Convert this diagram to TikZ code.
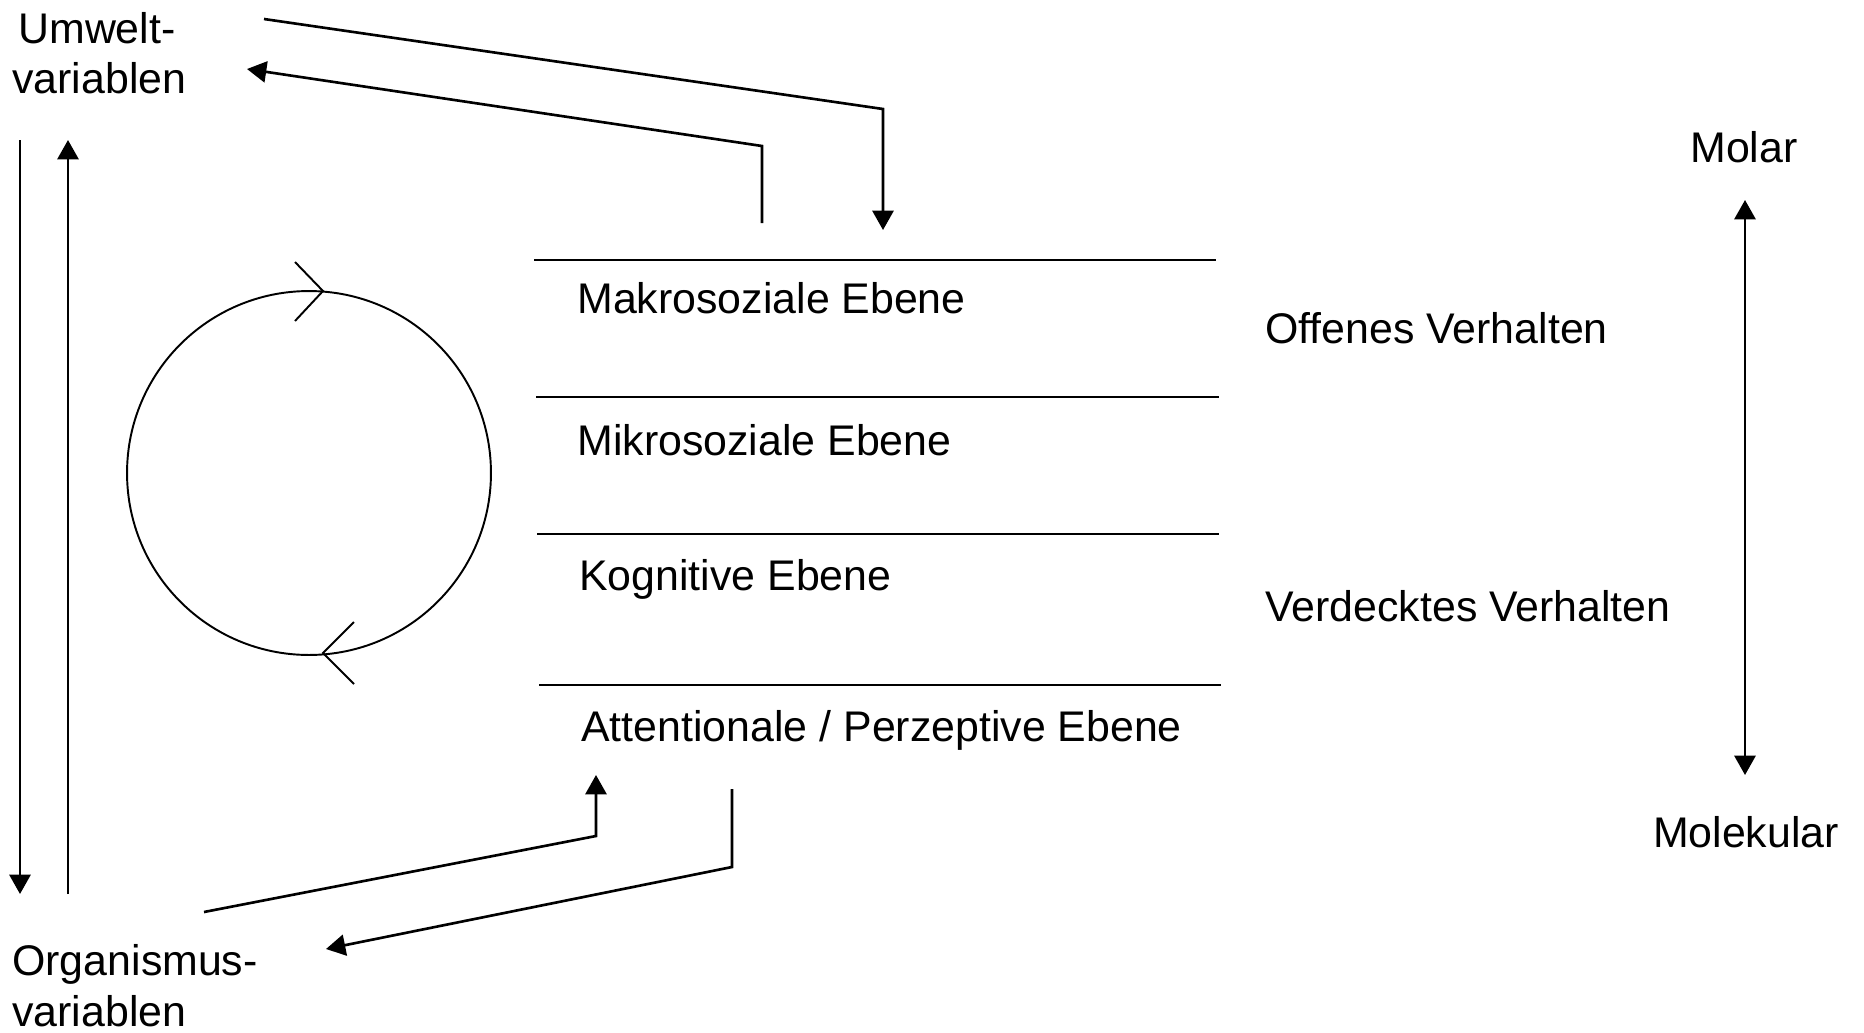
\documentclass[tikz,border=0pt]{standalone}
\usepackage{fontspec}
\setmainfont{Liberation Sans}
\usetikzlibrary{arrows.meta}
\begin{document}
\begin{tikzpicture}[x=0.02cm,y=-0.02cm,
  lbl/.style={inner sep=0pt, font=\fontsize{24.4}{29}\selectfont},
  ln/.style={line width=1.1pt},
  aln/.style={line width=1.5pt},
  tip/.style={arrows={-Triangle[width=12pt,length=11pt]}},
  arr/.style={aln, -{Triangle[width=12pt,length=11pt]}},
  darr/.style={aln, {Triangle[width=12pt,length=11pt]}-{Triangle[width=12pt,length=11pt]}},
]
\useasboundingbox[fill=white] (0,0) rectangle (1864,1032);

% left labels
\node[lbl, anchor=base west] (umw1) at (18,43) {Umwelt-};
\node[lbl, anchor=base west] (umw2) at (12,93) {variablen};
\node[lbl, anchor=base west] (org1) at (12,975) {Organismus-};
\node[lbl, anchor=base west] (org2) at (12,1026) {variablen};

% level labels
\node[lbl, anchor=base west] (makro) at (577,313) {Makrosoziale Ebene};
\node[lbl, anchor=base west] (mikro) at (577,455) {Mikrosoziale Ebene};
\node[lbl, anchor=base west] (kogn) at (579,590) {Kognitive Ebene};
\node[lbl, anchor=base west] (atten) at (581,741) {Attentionale / Perzeptive Ebene};

% right labels
\node[lbl, anchor=base west] (offen) at (1265,343) {Offenes Verhalten};
\node[lbl, anchor=base west] (verd) at (1265,621) {Verdecktes Verhalten};
\node[lbl, anchor=base] (molar) at (1744,162) {Molar};
\node[lbl, anchor=base] (molek) at (1746,847) {Molekular};

% separator lines
\coordinate (h1a) at (534,260); \coordinate (h1b) at (1216,260);
\coordinate (h2a) at (536,397); \coordinate (h2b) at (1219,397);
\coordinate (h3a) at (537,534); \coordinate (h3b) at (1219,534);
\coordinate (h4a) at (539,685); \coordinate (h4b) at (1221,685);
\draw[ln] (h1a) -- (h1b);
\draw[ln] (h2a) -- (h2b);
\draw[ln] (h3a) -- (h3b);
\draw[ln] (h4a) -- (h4b);

% cycle
\coordinate (cc) at (309,473);
\draw[ln] (cc) circle[radius=3.64cm];
\coordinate (ctop) at (323,291);
\coordinate (cbot) at (323,653);
\draw[ln] (295,262) -- (ctop) -- (295,321);
\draw[ln] (354,622) -- (cbot) -- (354,684);

% left vertical arrows
\coordinate (l1) at (20,140); \coordinate (l2) at (20,894);
\coordinate (r1) at (68,894); \coordinate (r2) at (68,140);
\draw[arr] (l1) -- (l2);
\draw[arr] (r1) -- (r2);

% top arrows
\coordinate (u1) at (264,19); \coordinate (u2) at (883,109); \coordinate (u3) at (883,230);
\draw[arr] (u1) -- (u2) -- (u3);
\coordinate (v1) at (762,223); \coordinate (v2) at (762,146); \coordinate (v3) at (247,69);
\draw[arr] (v1) -- (v2) -- (v3);

% bottom arrows
\coordinate (b1) at (204,912); \coordinate (b2) at (596,836); \coordinate (b3) at (596,775);
\draw[arr] (b1) -- (b2) -- (b3);
\coordinate (c1) at (732,789); \coordinate (c2) at (732,867); \coordinate (c3) at (326,949);
\draw[arr] (c1) -- (c2) -- (c3);

% molar-molekular axis
\coordinate (m1) at (1745,200); \coordinate (m2) at (1745,775);
\draw[darr] (m1) -- (m2);
\end{tikzpicture}
\end{document}
